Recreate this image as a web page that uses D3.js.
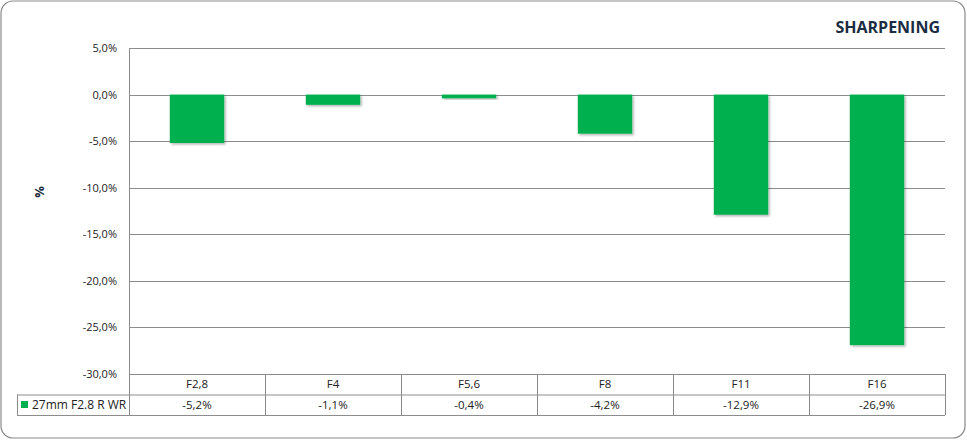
<!DOCTYPE html>
<html><head><meta charset="utf-8">
<script src="https://cdn.jsdelivr.net/npm/d3@7"></script>
<style>body{margin:0;background:#fff}svg{display:block}</style>
</head><body>
<svg id="c" width="967" height="440"></svg>
<script>
const categories = ["F2,8","F4","F5,6","F8","F11","F16"];
const values = [-5.2,-1.1,-0.4,-4.2,-12.9,-26.9];
const seriesName = "27mm F2.8 R WR";
const yTicks = [5,0,-5,-10,-15,-20,-25,-30];
const title = "SHARPENING";

const svg = d3.select("#c");
const font = "'Open Sans', sans-serif";
const grid = "#8c8c8c";
const L = 129, R = 945, T = 48, B = 374;
const rowH = 20.5;

svg.append("rect").attr("x",1).attr("y",1).attr("width",964).attr("height",437)
  .attr("rx",12).attr("fill","#fff").attr("stroke","#8a8a8a").attr("stroke-width",1.2);

const defs = svg.append("defs");
const f = defs.append("filter").attr("id","sh").attr("x","-20%").attr("y","-20%").attr("width","150%").attr("height","150%");
f.append("feDropShadow").attr("dx",1.5).attr("dy",1.5).attr("stdDeviation",1.2).attr("flood-color","#000").attr("flood-opacity",0.3);

const x = d3.scaleBand().domain(categories).range([L,R]).paddingInner(0.6).paddingOuter(0.3);
const xCell = d3.scaleBand().domain(categories).range([L,R]);
const y = d3.scaleLinear().domain([-30,5]).range([B,T]);

// gridlines
svg.append("g").selectAll("line").data(yTicks).join("line")
  .attr("x1",L).attr("x2",R).attr("y1",d=>Math.round(y(d))+0.5).attr("y2",d=>Math.round(y(d))+0.5)
  .attr("stroke",grid).attr("stroke-width",1);

// y axis labels
const yAxis = d3.axisLeft(y).tickValues(yTicks).tickSize(0).tickPadding(0)
  .tickFormat(d=>d3.format(".1f")(d).replace(".",",").replace("−","-")+"%");
const ga = svg.append("g").attr("transform",`translate(${L-12},0)`).call(yAxis);
ga.select(".domain").remove();
ga.selectAll("text").attr("font-family",font).attr("font-size",11).attr("fill","#222");

// bars
svg.append("g").selectAll("rect").data(values).join("rect")
  .attr("x",(d,i)=>x(categories[i])).attr("width",x.bandwidth())
  .attr("y",d=>y(Math.max(0,d))).attr("height",d=>Math.abs(y(d)-y(0)))
  .attr("fill","#00B050").attr("filter","url(#sh)");

// table
const tb = svg.append("g").attr("stroke",grid).attr("stroke-width",1).attr("fill","none");
tb.append("line").attr("x1",L+0.5).attr("x2",L+0.5).attr("y1",T).attr("y2",B+2*rowH);
tb.append("line").attr("x1",L).attr("x2",R).attr("y1",B+0.5).attr("y2",B+0.5);
tb.append("line").attr("x1",17).attr("x2",R).attr("y1",B+rowH+0.5).attr("y2",B+rowH+0.5);
tb.append("line").attr("x1",17).attr("x2",R).attr("y1",B+2*rowH+0.5).attr("y2",B+2*rowH+0.5);
tb.append("line").attr("x1",17.5).attr("x2",17.5).attr("y1",B+rowH).attr("y2",B+2*rowH);
tb.selectAll(".v").data(categories).join("line").attr("class","v")
  .attr("x1",d=>Math.round(xCell(d)+xCell.bandwidth())+0.5).attr("x2",d=>Math.round(xCell(d)+xCell.bandwidth())+0.5)
  .attr("y1",B).attr("y2",B+2*rowH);

svg.append("g").selectAll("text").data(categories).join("text")
  .attr("x",d=>xCell(d)+xCell.bandwidth()/2).attr("y",B+rowH/2+4)
  .attr("text-anchor","middle").attr("font-family",font).attr("font-size",11.5).attr("fill","#222").text(d=>d);
svg.append("g").selectAll("text").data(values).join("text")
  .attr("x",(d,i)=>xCell(categories[i])+xCell.bandwidth()/2).attr("y",B+rowH*1.5+4)
  .attr("text-anchor","middle").attr("font-family",font).attr("font-size",11.5).attr("fill","#222")
  .text(d=>d3.format(".1f")(d).replace(".",",").replace("−","-")+"%");

svg.append("rect").attr("x",21).attr("y",B+rowH+6.5).attr("width",7).attr("height",7).attr("fill","#00B050");
svg.append("text").attr("x",32).attr("y",B+rowH*1.5+4).attr("font-family",font).attr("font-size",12).attr("fill","#222").text(seriesName);

// title
svg.append("text").attr("x",940).attr("y",33).attr("text-anchor","end").attr("font-family",font)
  .attr("font-weight","bold").attr("font-size",16).attr("fill","#1b2d42").text(title);

// y label
svg.append("text").attr("transform","translate(44,192) rotate(-90)").attr("text-anchor","middle")
  .attr("font-family",font).attr("font-weight","bold").attr("font-size",13).attr("fill","#1b2d42").text("%");
</script>
</body></html>
